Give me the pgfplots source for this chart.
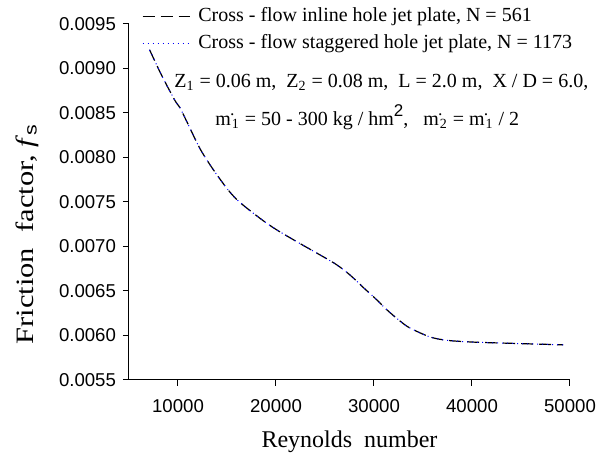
\documentclass[border=0pt]{standalone}
\usepackage{pgfplots}
\pgfplotsset{compat=1.18}
\usepackage{fontspec}
\setmainfont{Liberation Serif}
\setsansfont{Liberation Sans}
\usetikzlibrary{calc}
\pgfplotstableread{
x y
7100 0.009210
8300 0.008930
9690 0.008640
10200 0.008560
11000 0.008380
12240 0.008100
13500 0.007880
14800 0.007680
15710 0.007560
16700 0.007460
18570 0.007300
20100 0.007185
22500 0.007030
24180 0.006925
26120 0.006800
27550 0.006680
29000 0.006530
30100 0.006420
31300 0.006290
32650 0.006163
33670 0.006084
35710 0.005984
37500 0.005945
40300 0.005925
44000 0.005912
49300 0.005895
}\datatab
\begin{document}
\begin{tikzpicture}
\begin{axis}[name=ax, scale only axis, width=220.5pt, height=178pt,
  xmin=5000, xmax=50000, ymin=0.0055, ymax=0.0095,
  axis x line*=bottom, axis y line*=left,
  axis line style={-, line width=0.5pt},
  xtick={10000,20000,30000,40000,50000},
  ytick={0.0055,0.0060,0.0065,0.0070,0.0075,0.0080,0.0085,0.0090,0.0095},
  scaled y ticks=false, scaled x ticks=false,
  yticklabel style={/pgf/number format/fixed, /pgf/number format/fixed zerofill, /pgf/number format/precision=4, /pgf/number format/assume math mode=true},
  xticklabel style={/pgf/number format/1000 sep={}, /pgf/number format/assume math mode=true, /tikz/yshift=-3pt},
  tick label style={font=\sffamily\fontsize{9.3}{11}\selectfont},
  tick align=outside, major tick length=3pt,
  tick style={black, line width=0.5pt},
  clip=false,
  xlabel={Reynolds\ \ number},
  xlabel style={font=\fontsize{12}{14}\selectfont, at={(axis description cs:0.5,0)}, anchor=base, yshift=-34pt},
  ylabel={\scalebox{1.22}[1]{Friction\ \ factor,\ \textit{f}\textsubscript{\sffamily s}}},
  ylabel style={font=\fontsize{12.5}{14}\selectfont, at={(axis description cs:-0.2313,0.41)}, anchor=center},
  legend style={at={(axis description cs:0.0288,1.052)}, anchor=north west, draw=none, fill=none,
    font=\fontsize{10}{12}\selectfont, inner sep=0pt, row sep=2.25pt, column sep=3pt,
    nodes={inner sep=1pt, text height=7pt, text depth=2pt}},
  legend cell align=left,
  legend image code/.code={\draw[#1] (0pt,0pt) -- (23.5pt,0pt);},
]
\addplot[black, line width=0.6pt, dash pattern=on 6pt off 3pt, smooth] table[x=x,y=y] {\datatab};
\addlegendentry{Cross - flow inline hole jet plate, N = 561}
\addplot[blue, line width=0.5pt, dotted, smooth] table[x=x,y=y] {\datatab};
\addlegendentry{Cross - flow staggered hole jet plate, N = 1173}
\node[anchor=base west, font=\fontsize{10}{12}\selectfont, inner sep=0pt] at (rel axis cs:0.102,0.823)
  {Z\textsubscript{1} = 0.06 m,\ \ Z\textsubscript{2} = 0.08 m,\ \ L = 2.0 m,\ \ X / D = 6.0,};
\node[anchor=base west, font=\fontsize{10}{12}\selectfont, inner sep=0pt] at (rel axis cs:0.195,0.716)
  {m\textsuperscript{\scalebox{0.6}{\textbullet}}\kern-0.15em\textsubscript{1} = 50 - 300 kg / hm\raisebox{0.42em}{\fontsize{8.5}{9}\selectfont\sffamily 2},\ \ \ m\textsuperscript{\scalebox{0.6}{\textbullet}}\kern-0.15em\textsubscript{2} = m\textsuperscript{\scalebox{0.6}{\textbullet}}\kern-0.15em\textsubscript{1} / 2};
\end{axis}
\path ($(ax.south west)+(-64.5pt,-38pt)$) rectangle ($(ax.north east)+(20pt,12pt)$);
\end{tikzpicture}
\end{document}
